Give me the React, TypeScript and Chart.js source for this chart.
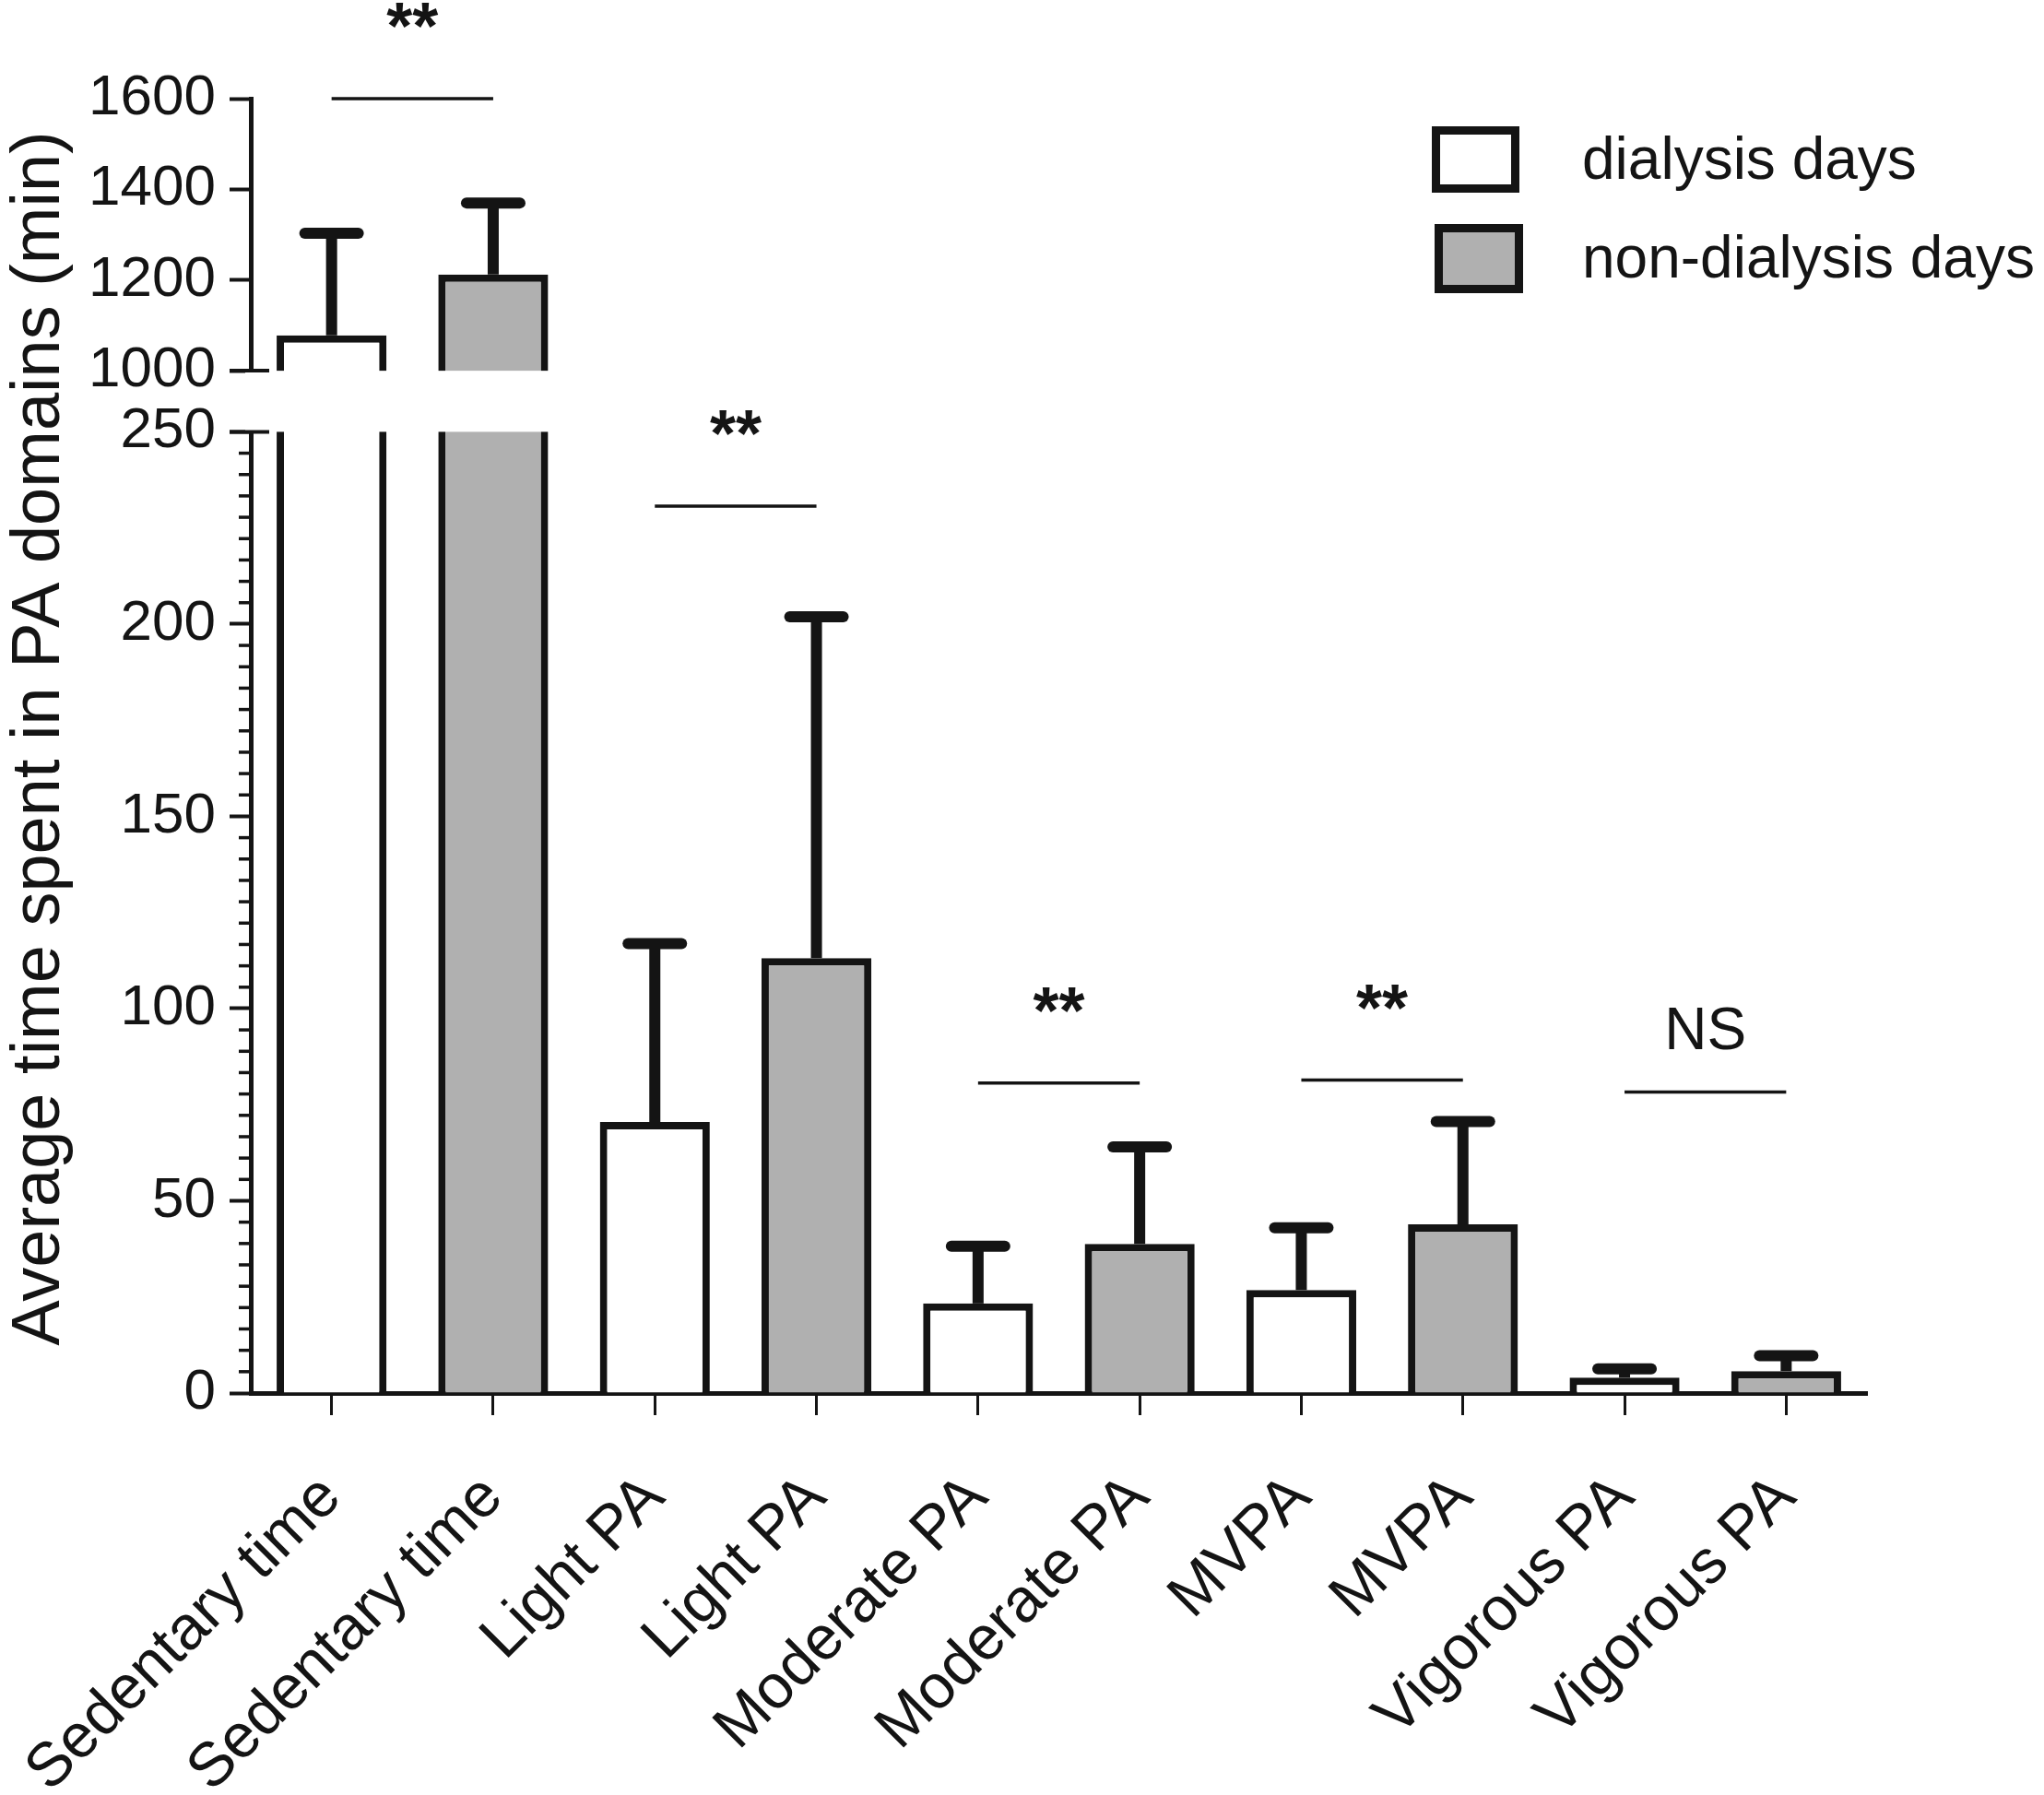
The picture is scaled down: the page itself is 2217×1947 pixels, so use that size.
import { useEffect, useRef } from 'react';
import { Chart, LinearScale, registerables } from 'chart.js';

// values (minutes)
const domains = ['Sedentary time', 'Light PA', 'Moderate PA', 'MVPA', 'Vigorous PA'];
const seriesNames = ['dialysis days', 'non-dialysis days'];
const dialysisMean = [1078, 70.5, 23.3, 26.8, 4.0];
const dialysisUpper = [1303, 116.9, 38.2, 43.0, 6.3];
const nonDialysisMean = [1212, 113.1, 38.8, 43.9, 5.7];
const nonDialysisUpper = [1370, 201.9, 64.0, 70.6, 9.7];

// broken y axis
const lowTicks = [0, 50, 100, 150, 200, 250];
const highTicks = [1000, 1200, 1400, 1600];

// significance brackets, one per domain
const sigLabels = ['**', '**', '**', '**', 'NS'];
const sigLevels = [1600, 230.7, 80.6, 81.4, 78.3];

const yTitle = 'Average time spent in PA domains (min)';

const W = 2217;
const H = 1947;
const FONT = '"Liberation Sans", Arial, Helvetica, sans-serif';
const INK = '#141414';
const GREY = '#b0b0b0';

const LOW_MAX = lowTicks[lowTicks.length - 1];
const HIGH_MIN = highTicks[0];
const HIGH_MAX = highTicks[highTicks.length - 1];
const HIGH_SHARE = 0.2102; // share of plot height for the 1000-1600 part
const GAP_SHARE = 0.0472;  // white gap between the two parts

class BrokenLinearScale extends LinearScale {
  static id = 'brokenLinear';

  buildTicks() {
    return [...lowTicks, ...highTicks].map(value => ({ value }));
  }

  getPixelForValue(value: number) {
    if (value === null || value === undefined || isNaN(value)) return NaN;
    const { top, bottom } = this as any;
    const h = bottom - top;
    const hHigh = h * HIGH_SHARE;
    const hGap = h * GAP_SHARE;
    const hLow = h - hHigh - hGap;
    if (value <= LOW_MAX) return bottom - (value / LOW_MAX) * hLow;
    if (value >= HIGH_MIN) return top + ((HIGH_MAX - value) / (HIGH_MAX - HIGH_MIN)) * hHigh;
    return bottom - hLow - ((value - LOW_MAX) / (HIGH_MIN - LOW_MAX)) * hGap;
  }

  getValueForPixel(pixel: number) {
    const { top, bottom } = this as any;
    const h = bottom - top;
    const hHigh = h * HIGH_SHARE;
    const hGap = h * GAP_SHARE;
    const hLow = h - hHigh - hGap;
    if (pixel >= bottom - hLow) return ((bottom - pixel) / hLow) * LOW_MAX;
    if (pixel <= top + hHigh) return HIGH_MAX - ((pixel - top) / hHigh) * (HIGH_MAX - HIGH_MIN);
    return LOW_MAX + ((bottom - hLow - pixel) / hGap) * (HIGH_MIN - LOW_MAX);
  }
}

Chart.register(...registerables, BrokenLinearScale);

const decorPlugin = {
  id: 'decor',
  afterDatasetsDraw(chart: any) {
    const { ctx, chartArea } = chart;
    const x = chart.scales.x;
    const y = chart.scales.y;
    const left = chartArea.left;
    ctx.save();

    // axis break: white band across axis and bars
    const gapTop = y.getPixelForValue(HIGH_MIN);
    const gapBottom = y.getPixelForValue(LOW_MAX);
    ctx.fillStyle = '#ffffff';
    ctx.fillRect(left - 6, gapTop, chartArea.right - left + 12, gapBottom - gapTop);

    ctx.strokeStyle = INK;
    ctx.lineCap = 'butt';
    ctx.lineWidth = 4;
    [gapTop, gapBottom].forEach(py => {
      ctx.beginPath();
      ctx.moveTo(left - 23, py);
      ctx.lineTo(left + 20, py);
      ctx.stroke();
    });

    // minor ticks on the low part
    ctx.lineWidth = 3.5;
    for (let i = 0; i < lowTicks.length - 1; i++) {
      const a = lowTicks[i];
      const step = (lowTicks[i + 1] - a) / 9;
      for (let k = 1; k < 9; k++) {
        const py = y.getPixelForValue(a + k * step);
        ctx.beginPath();
        ctx.moveTo(left - 13, py);
        ctx.lineTo(left, py);
        ctx.stroke();
      }
    }

    // error bars (upper SD only)
    chart.data.datasets.forEach((ds: any, d: number) => {
      const meta = chart.getDatasetMeta(d);
      meta.data.forEach((bar: any, j: number) => {
        const v = ds.data[j];
        const up = ds.errorTop[j];
        if (v == null || up == null) return;
        const py = y.getPixelForValue(up);
        ctx.lineCap = 'butt';
        ctx.lineWidth = 12;
        ctx.beginPath();
        ctx.moveTo(bar.x, bar.y);
        ctx.lineTo(bar.x, py);
        ctx.stroke();
        ctx.lineCap = 'round';
        ctx.lineWidth = 12;
        ctx.beginPath();
        ctx.moveTo(bar.x - 29, py);
        ctx.lineTo(bar.x + 29, py);
        ctx.stroke();
      });
    });

    // significance brackets
    ctx.lineCap = 'butt';
    ctx.lineWidth = 3.5;
    ctx.fillStyle = INK;
    ctx.textAlign = 'center';
    ctx.textBaseline = 'alphabetic';
    sigLevels.forEach((level, i) => {
      const x1 = x.getPixelForValue(2 * i);
      const x2 = x.getPixelForValue(2 * i + 1);
      const py = y.getPixelForValue(level);
      ctx.beginPath();
      ctx.moveTo(x1, py);
      ctx.lineTo(x2, py);
      ctx.stroke();
      const stars = sigLabels[i].startsWith('*');
      ctx.font = stars ? `bold 72px ${FONT}` : `64px ${FONT}`;
      ctx.fillText(sigLabels[i], (x1 + x2) / 2, py - (stars ? 54 : 46));
    });

    // legend
    const legendFills = ['#ffffff', GREY];
    const legendBoxes = [
      [1553, 137, 95, 72],
      [1556, 243, 96, 75],
    ];
    ctx.lineWidth = 9;
    ctx.font = `64px ${FONT}`;
    ctx.textAlign = 'left';
    ctx.textBaseline = 'middle';
    seriesNames.forEach((name, i) => {
      const [bx, by, bw, bh] = legendBoxes[i];
      ctx.fillStyle = legendFills[i];
      ctx.fillRect(bx, by, bw, bh);
      ctx.strokeRect(bx + 4.5, by + 4.5, bw - 9, bh - 9);
      ctx.fillStyle = INK;
      ctx.fillText(name, 1716, by + bh / 2 + 3);
    });

    // y title spanning both axis parts
    ctx.translate(64, 801);
    ctx.rotate(-Math.PI / 2);
    ctx.textAlign = 'center';
    ctx.textBaseline = 'alphabetic';
    ctx.font = `74px ${FONT}`;
    ctx.fillText(yTitle, 0, 0);

    ctx.restore();
  },
};

export default function App() {
  const canvasRef = useRef<HTMLCanvasElement>(null);

  useEffect(() => {
    if (!canvasRef.current) return;
    const labels = domains.flatMap(d => [d, d]);
    const chart = new Chart(canvasRef.current, {
      type: 'bar',
      data: {
        labels,
        datasets: [
          {
            label: seriesNames[0],
            data: domains.flatMap((_, i) => [dialysisMean[i], null]),
            errorTop: domains.flatMap((_, i) => [dialysisUpper[i], null]),
            backgroundColor: '#ffffff',
            borderColor: INK,
            borderWidth: 8,
            grouped: false,
            barPercentage: 0.68,
            categoryPercentage: 1,
          } as any,
          {
            label: seriesNames[1],
            data: domains.flatMap((_, i) => [null, nonDialysisMean[i]]),
            errorTop: domains.flatMap((_, i) => [null, nonDialysisUpper[i]]),
            backgroundColor: GREY,
            borderColor: INK,
            borderWidth: 8,
            grouped: false,
            barPercentage: 0.68,
            categoryPercentage: 1,
          } as any,
        ],
      },
      options: {
        animation: false,
        responsive: false,
        layout: { padding: { left: 0, right: 192, top: 107, bottom: 0 } },
        plugins: {
          legend: { display: false },
          tooltip: { enabled: false },
        },
        scales: {
          x: {
            type: 'category',
            offset: true,
            grid: {
              display: true,
              drawOnChartArea: false,
              offset: false,
              tickLength: 24,
              tickWidth: 3,
              tickColor: INK,
            },
            border: { display: true, color: INK, width: 5 },
            ticks: {
              autoSkip: false,
              minRotation: 45,
              maxRotation: 45,
              padding: 50,
              color: INK,
              font: { family: FONT, size: 67 },
            },
            afterFit: (s: any) => {
              s.height = H - 1511;
              s.paddingLeft = 0;
              s.paddingRight = 0;
            },
          },
          y: {
            type: 'brokenLinear' as any,
            min: 0,
            max: HIGH_MAX,
            grid: {
              display: true,
              drawOnChartArea: false,
              tickLength: 23,
              tickWidth: 4,
              tickColor: INK,
            },
            border: { display: true, color: INK, width: 5 },
            ticks: {
              autoSkip: false,
              padding: 15,
              color: INK,
              font: { family: FONT, size: 62 },
              callback: (v: any) => String(v),
            },
            afterFit: (s: any) => { s.width = 272; },
          },
        },
      },
      plugins: [decorPlugin],
    });
    return () => chart.destroy();
  }, []);

  return (
    <div style={{ position: 'absolute', left: 0, top: 0, width: W, height: H, background: '#ffffff' }}>
      <canvas ref={canvasRef} width={W} height={H} style={{ display: 'block', width: W, height: H }} />
    </div>
  );
}
